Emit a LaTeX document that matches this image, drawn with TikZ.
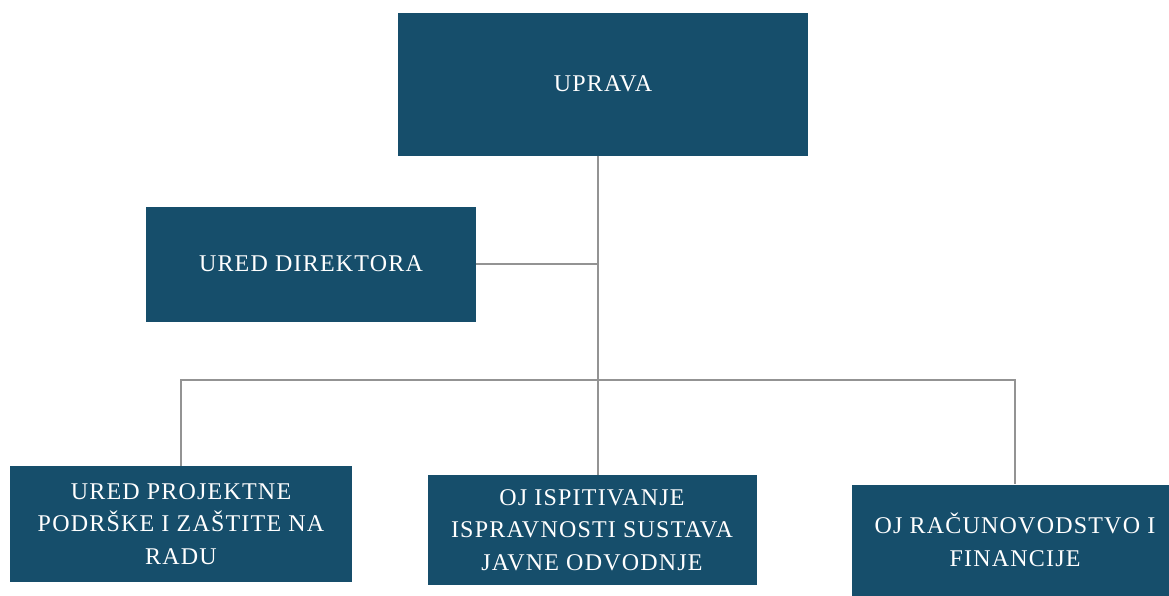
\documentclass[tikz,border=0pt]{standalone}
\usepackage{fontspec}
\setmainfont{Liberation Serif}[LetterSpace=5]
\usetikzlibrary{positioning,calc}
\definecolor{boxblue}{RGB}{22,78,107}

\begin{document}
\begin{tikzpicture}[
        x=1pt, y=-1pt,
        unit/.style={fill=boxblue, text=white, align=center, inner sep=0pt,
            font=\fontsize{24}{32.5}\selectfont},
        link/.style={draw=gray!85, line width=1.2pt},
    ]

    \clip (0,0) rectangle (1169,595);

    \node[unit, minimum width=410pt, minimum height=143pt] (uprava) at (603,84) {UPRAVA};
    \node[unit, minimum width=330pt, minimum height=115pt] (direktor) at (311,264) {URED DIREKTORA};

    \node[unit, minimum width=342pt, minimum height=116pt] (projekt) at (181,524)
        {URED PROJEKTNE\\PODRŠKE I ZAŠTITE NA\\RADU};
    \node[unit, minimum width=329pt, minimum height=110pt] (ispit) at (592,530)
        {OJ ISPITIVANJE\\ISPRAVNOSTI SUSTAVA\\JAVNE ODVODNJE};
    \node[unit, minimum width=326pt, minimum height=111pt] (racun) at (1015,540)
        {OJ RAČUNOVODSTVO I\\FINANCIJE};

    \coordinate (trunk) at (598,0);
    \coordinate (bus) at (0,380);

    \draw[link] (uprava.south -| trunk) -- (ispit.north -| trunk);
    \draw[link] (direktor.east) -- (direktor.east -| trunk);
    \draw[link] (projekt.north) -- (projekt.north |- bus)
                -- (racun.north |- bus) -- (racun.north);

\end{tikzpicture}
\end{document}
